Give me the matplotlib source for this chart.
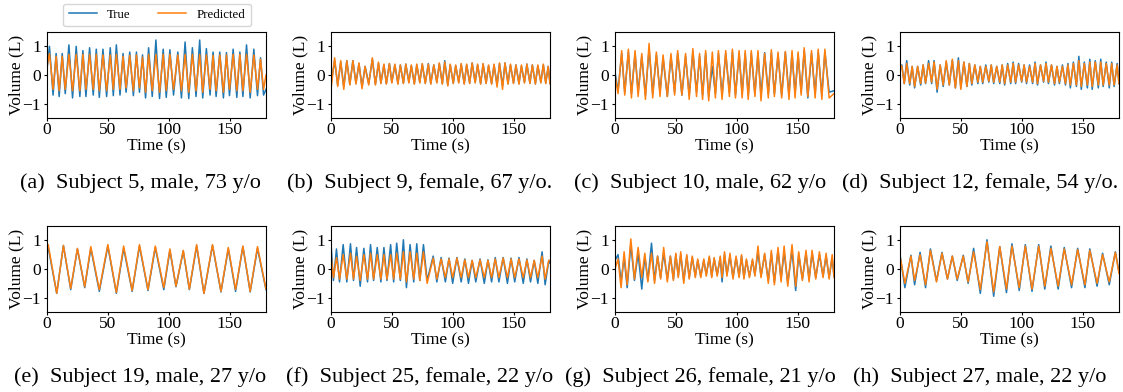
import numpy as np
import matplotlib
matplotlib.use('Agg')
import matplotlib.pyplot as plt

plt.rcParams['font.family'] = ['Liberation Serif', 'DejaVu Serif']

# ---- data: peak / trough times (s) and volumes (L) ----
# (a) subject 5
a_pk_t = [2, 7.5, 12.5, 18, 24, 29.5, 35, 40.5, 46, 52, 57, 62.5, 68, 73.5, 78.5, 83.5,
          89.5, 95.5, 101, 107.5, 113.5, 119.5, 125.5, 131, 136.5, 142, 147.5, 153, 158.5, 164, 170, 175.5]
a_tr_t = [0, 5, 10, 15, 21, 27, 32, 38, 43, 49, 54.5, 60, 65, 71, 76, 81, 86.5, 92.5, 98, 104,
          110.5, 116.5, 122.5, 128, 134, 139, 145, 150, 156, 161, 167, 173, 178, 180]
a_true_pk = [1.0, 0.75, 0.75, 1.05, 1.0, 0.85, 0.95, 0.9, 0.9, 0.95, 1.05, 0.75, 0.8, 0.8, 0.7, 0.95,
             1.22, 0.9, 0.88, 0.8, 1.15, 0.95, 1.22, 0.92, 0.8, 0.8, 0.78, 0.9, 0.8, 1.05, 0.9, 0.6]
a_true_tr = [0.2, -0.7, -0.75, -0.65, -0.8, -0.75, -0.75, -0.7, -0.78, -0.75, -0.72, -0.7, -0.6, -0.72, -0.6, -0.8,
             -0.75, -0.82, -0.78, -0.7, -0.8, -0.82, -0.75, -0.8, -0.7, -0.75, -0.8, -0.72, -0.78, -0.75, -0.8,
             -0.72, -0.7, -0.5]
a_pred_pk = [0.75, 0.65, 0.65, 0.72, 0.72, 0.72, 0.72, 0.72, 0.7, 0.7, 0.72, 0.65, 0.68, 0.7, 0.62, 0.72,
             0.72, 0.72, 0.72, 0.7, 0.72, 0.72, 0.72, 0.7, 0.68, 0.7, 0.7, 0.72, 0.72, 0.72, 0.7, 0.55]
a_pred_tr = [0.3, -0.5, -0.55, -0.5, -0.55, -0.55, -0.5, -0.5, -0.55, -0.55, -0.5, -0.5, -0.45, -0.55, -0.45, -0.6,
             -0.55, -0.6, -0.55, -0.5, -0.55, -0.6, -0.55, -0.6, -0.5, -0.55, -0.6, -0.5, -0.55, -0.55, -0.6,
             -0.5, -0.5, 0.0]

# (b) subject 9
b_pk_t = [3, 8, 13, 18, 23, 28, 34, 39, 43.5, 48, 52.5, 57, 61.5, 66, 70.5, 75, 80, 84.5, 89, 93.5,
          98, 102.5, 107, 111.5, 116, 120.5, 125, 129.5, 134, 138.5, 143, 147.5, 152, 156.5, 161, 165.5,
          170, 174.5, 178.5]
b_tr_t = [0, 5.5, 10.5, 15.5, 20.5, 25.5, 31, 36.5, 41, 45.5, 50, 55, 59.5, 64, 68.5, 73, 77.5, 82, 87,
          91.5, 96, 100.5, 105, 109.5, 114, 118.5, 123, 127.5, 132, 136.5, 141, 145.5, 150, 154.5, 159,
          163.5, 168, 172.5, 176.5, 180]
b_true_pk = [0.5, 0.45, 0.5, 0.5, 0.4, 0.3, 0.55, 0.4, 0.35, 0.4, 0.35, 0.35, 0.38, 0.32, 0.35, 0.38,
             0.4, 0.35, 0.4, 0.5, 0.35, 0.32, 0.38, 0.35, 0.42, 0.35, 0.38, 0.32, 0.35, 0.4, 0.42, 0.35,
             0.35, 0.3, 0.38, 0.35, 0.32, 0.35, 0.3]
b_true_tr = [-0.3, -0.35, -0.4, -0.32, -0.28, -0.42, -0.3, -0.32, -0.28, -0.3, -0.25, -0.3, -0.28, -0.25,
             -0.3, -0.25, -0.28, -0.3, -0.25, -0.3, -0.35, -0.28, -0.25, -0.3, -0.28, -0.25, -0.3, -0.28,
             -0.3, -0.35, -0.38, -0.3, -0.28, -0.3, -0.25, -0.28, -0.3, -0.25, -0.28, -0.3]
b_pred_pk = [0.6, 0.5, 0.5, 0.5, 0.42, 0.3, 0.6, 0.45, 0.38, 0.4, 0.38, 0.35, 0.38, 0.35, 0.38, 0.4,
             0.38, 0.35, 0.42, 0.45, 0.38, 0.35, 0.4, 0.38, 0.42, 0.38, 0.4, 0.35, 0.38, 0.42, 0.42, 0.38,
             0.35, 0.35, 0.38, 0.35, 0.35, 0.38, 0.3]
b_pred_tr = [-0.5, -0.4, -0.5, -0.35, -0.32, -0.48, -0.35, -0.35, -0.3, -0.32, -0.28, -0.32, -0.3, -0.28,
             -0.32, -0.28, -0.3, -0.32, -0.28, -0.32, -0.38, -0.3, -0.28, -0.32, -0.3, -0.28, -0.32, -0.3,
             -0.32, -0.42, -0.5, -0.32, -0.3, -0.32, -0.28, -0.3, -0.32, -0.28, -0.3, -0.3]

# (c) subject 10
c_pk_t = [5.5, 11, 16.5, 22, 28, 34, 39.5, 46, 51.5, 58, 64, 69.5, 74.5, 80, 85, 91, 96.5, 102, 107,
          112, 117.5, 123, 128.5, 134, 140, 145.5, 150.5, 155.5, 161.5, 167, 172.5]
c_tr_t = [0, 2.5, 8, 13.5, 19, 25, 31, 37, 43, 49, 55, 61, 67, 72, 77, 82.5, 88, 94, 99, 104.5, 109.5,
          115, 120, 126, 131, 137, 143, 148, 153, 158.5, 164.5, 170, 176, 180]
c_true_pk = [0.75, 0.8, 0.75, 0.65, 0.9, 0.7, 0.6, 0.65, 0.75, 0.65, 0.8, 0.65, 0.75, 0.3, 0.75, 0.75,
             0.8, 0.75, 0.75, 0.75, 0.75, 0.78, 0.78, 0.7, 0.8, 0.75, 0.7, 0.85, 0.75, 0.8, 0.8]
c_true_tr = [0.1, -0.55, -0.6, -0.65, -0.6, -0.7, -0.65, -0.6, -0.75, -0.6, -0.7, -0.7, -0.6, -0.7, -0.75,
             -0.65, -0.7, -0.6, -0.7, -0.65, -0.7, -0.65, -0.7, -0.65, -0.65, -0.7, -0.7, -0.65, -0.6,
             -0.8, -0.65, -0.7, -0.6, -0.55]
c_pred_pk = [0.85, 0.9, 0.85, 0.75, 1.1, 0.8, 0.7, 0.75, 0.85, 0.75, 0.92, 0.75, 0.85, 0.8, 0.85, 0.85,
             0.9, 0.85, 0.85, 0.85, 0.85, 0.75, 0.88, 0.8, 0.82, 0.85, 0.8, 0.95, 0.85, 0.9, 0.9]
c_pred_tr = [0.0, -0.65, -0.7, -0.8, -0.75, -0.85, -0.8, -0.75, -0.75, -0.7, -0.7, -0.85, -0.75, -0.85,
             -0.9, -0.8, -0.85, -0.75, -0.8, -0.8, -0.85, -0.75, -0.9, -0.8, -0.75, -0.8, -0.85, -0.8,
             -0.7, -0.75, -0.8, -0.85, -0.8, -0.65]

# (d) subject 12
d_pk_t = [1.5, 5.5, 10, 14.5, 19, 23.5, 28, 33, 38, 43, 48, 52.5, 57, 61.5, 66, 70.5, 75, 79.5, 84,
          88.5, 93, 97.5, 102, 106.5, 111, 115.5, 120, 124.5, 129, 133.5, 138, 142.5, 147, 151.5, 156,
          160.5, 165, 169.5, 174, 178.5]
d_tr_t = [0, 3.5, 8, 12, 17, 21, 26, 30.5, 35.5, 40.5, 45.5, 50, 55, 59, 64, 68, 73, 77, 82, 86, 91,
          95, 100, 104, 109, 113, 118, 122, 127, 131, 136, 140, 145, 149, 154, 158, 163, 167, 172, 176, 180]
d_true_pk = [0.35, 0.5, 0.3, 0.3, 0.35, 0.5, 0.5, 0.35, 0.45, 0.5, 0.6, 0.45, 0.4, 0.35, 0.3, 0.35,
             0.35, 0.3, 0.35, 0.4, 0.45, 0.4, 0.35, 0.35, 0.45, 0.35, 0.45, 0.35, 0.3, 0.35, 0.4, 0.45,
             0.65, 0.45, 0.55, 0.5, 0.55, 0.45, 0.45, 0.4]
d_true_tr = [0.3, -0.3, -0.35, -0.45, -0.35, -0.3, -0.3, -0.6, -0.4, -0.35, -0.45, -0.45, -0.4, -0.35,
             -0.3, -0.3, -0.25, -0.3, -0.3, -0.35, -0.3, -0.3, -0.25, -0.3, -0.3, -0.35, -0.25, -0.3, -0.35,
             -0.3, -0.35, -0.45, -0.4, -0.5, -0.45, -0.5, -0.45, -0.4, -0.45, -0.4, -0.3]
d_pred_pk = [0.3, 0.4, 0.3, 0.3, 0.35, 0.4, 0.45, 0.35, 0.5, 0.55, 0.5, 0.45, 0.4, 0.35, 0.3, 0.3,
             0.35, 0.3, 0.35, 0.35, 0.4, 0.35, 0.35, 0.3, 0.4, 0.35, 0.4, 0.35, 0.3, 0.3, 0.35, 0.4,
             0.5, 0.4, 0.45, 0.45, 0.45, 0.4, 0.4, 0.35]
d_pred_tr = [0.35, -0.3, -0.3, -0.4, -0.3, -0.28, -0.25, -0.5, -0.35, -0.35, -0.45, -0.5, -0.4, -0.3,
             -0.25, -0.25, -0.22, -0.25, -0.25, -0.3, -0.25, -0.25, -0.22, -0.25, -0.25, -0.3, -0.22,
             -0.25, -0.3, -0.25, -0.3, -0.35, -0.35, -0.4, -0.35, -0.4, -0.35, -0.35, -0.35, -0.35, -0.3]

# (e) subject 19
e_pk_t = [1, 13.5, 25, 36, 50, 63, 76, 89, 101, 112, 123, 136, 149, 161, 173]
e_tr_t = [0, 8, 19.5, 31, 43, 57, 70, 83, 96, 106, 117, 129, 143, 155, 167, 180]
e_true_pk = [0.75, 0.82, 0.7, 0.72, 0.8, 0.72, 0.8, 0.75, 0.65, 0.62, 0.8, 0.82, 0.7, 0.78, 0.72]
e_true_tr = [0.7, -0.85, -0.72, -0.65, -0.78, -0.85, -0.78, -0.75, -0.72, -0.62, -0.72, -0.85, -0.8,
             -0.78, -0.8, -0.72]
e_pred_pk = [0.85, 0.82, 0.72, 0.78, 0.85, 0.8, 0.85, 0.8, 0.7, 0.65, 0.85, 0.85, 0.75, 0.8, 0.78]
e_pred_tr = [0.8, -0.85, -0.68, -0.62, -0.72, -0.82, -0.75, -0.72, -0.65, -0.6, -0.7, -0.85, -0.78,
             -0.72, -0.78, -0.7]

# (f) subject 25
f_pk_t = [4.5, 10, 16, 21, 27, 32.5, 38, 43.5, 49, 54, 59.5, 65, 70.5, 76, 84, 90.5, 97, 103.5, 110,
          116, 122.5, 129, 135, 141.5, 148, 154.5, 161, 167, 173.5, 179]
f_tr_t = [0, 2, 7, 13, 18.5, 24, 30, 35, 41, 46, 51.5, 57, 62, 68, 73, 79, 87, 94, 100, 107, 113, 119,
          126, 132, 138, 145, 151, 158, 164, 170, 176, 180]
f_true_pk = [0.7, 0.85, 0.88, 0.75, 0.72, 0.85, 0.75, 0.75, 0.85, 0.9, 1.02, 0.85, 0.88, 0.85, 0.45,
             0.4, 0.38, 0.4, 0.35, 0.3, 0.35, 0.32, 0.4, 0.4, 0.38, 0.4, 0.35, 0.3, 0.6, 0.3]
f_true_tr = [0.9, -0.4, -0.45, -0.45, -0.4, -0.6, -0.45, -0.4, -0.45, -0.4, -0.45, -0.4, -0.65, -0.45,
             -0.4, -0.4, -0.45, -0.45, -0.5, -0.45, -0.5, -0.45, -0.5, -0.45, -0.45, -0.5, -0.45, -0.5,
             -0.45, -0.5, -0.55, 0.2]
f_pred_pk = [0.4, 0.5, 0.55, 0.45, 0.5, 0.55, 0.5, 0.5, 0.5, 0.55, 0.6, 0.6, 0.55, 0.6, 0.38, 0.35,
             0.35, 0.38, 0.32, 0.3, 0.32, 0.3, 0.35, 0.38, 0.35, 0.35, 0.32, 0.3, 0.45, 0.3]
f_pred_tr = [0.5, -0.3, -0.35, -0.35, -0.35, -0.4, -0.35, -0.35, -0.35, -0.35, -0.35, -0.35, -0.45,
             -0.35, -0.4, -0.5, -0.35, -0.3, -0.3, -0.3, -0.3, -0.3, -0.3, -0.3, -0.3, -0.3, -0.3, -0.3,
             -0.3, -0.3, -0.35, 0.3]

# (g) subject 26
g_pk_t = [2.5, 7.5, 13, 19, 24.5, 30, 35, 40, 45.5, 50, 54, 59, 63.5, 68, 73, 77.5, 81.5, 86.5, 90,
          94.5, 99.5, 104, 108, 113, 117.5, 123, 128.5, 134, 139, 145.5, 151, 157, 162, 168, 173.5, 178.5]
g_tr_t = [0, 5, 10, 16, 22, 27, 32.5, 37.5, 43, 48, 52, 56.5, 61, 66, 70.5, 75, 79.5, 84, 88, 92, 97,
          102, 106, 110.5, 115, 120, 126, 131, 136.5, 142, 148.5, 154, 159.5, 165, 171, 176, 180]
g_true_pk = [0.5, 0.4, 0.85, 0.55, 0.45, 0.9, 0.45, 0.55, 0.45, 0.5, 0.5, 0.45, 0.4, 0.3, 0.3, 0.4,
             0.35, 0.4, 0.5, 0.45, 0.4, 0.45, 0.3, 0.3, 0.6, 0.5, 0.55, 0.65, 0.6, 0.65, 0.5, 0.55,
             0.55, 0.5, 0.45, 0.4]
g_true_tr = [0.3, -0.45, -0.65, -0.4, -0.7, -0.4, -0.4, -0.3, -0.35, -0.35, -0.25, -0.4, -0.3, -0.25,
             -0.25, -0.2, -0.25, -0.2, -0.45, -0.2, -0.3, -0.25, -0.3, -0.25, -0.2, -0.25, -0.4, -0.45,
             -0.35, -0.5, -0.75, -0.35, -0.35, -0.3, -0.25, -0.3, -0.25]
g_pred_pk = [0.35, 0.6, 1.05, 0.75, 0.55, 0.55, 0.45, 0.75, 0.45, 0.55, 0.6, 0.5, 0.45, 0.35, 0.35,
             0.45, 0.4, 0.45, 0.6, 0.55, 0.45, 0.5, 0.35, 0.35, 0.8, 0.55, 0.65, 0.75, 0.8, 0.85, 0.6,
             0.65, 0.65, 0.6, 0.55, 0.5]
g_pred_tr = [0.0, -0.65, -0.55, -0.35, -0.3, -0.45, -0.5, -0.35, -0.45, -0.4, -0.3, -0.5, -0.35, -0.3,
             -0.3, -0.25, -0.3, -0.25, -0.3, -0.25, -0.35, -0.3, -0.35, -0.3, -0.25, -0.3, -0.5, -0.55,
             -0.45, -0.6, -0.6, -0.4, -0.45, -0.35, -0.3, -0.35, -0.3]

# (h) subject 27
h_pk_t = [9, 16.5, 25, 34.5, 43, 52, 60.5, 71.5, 82, 92, 103, 114, 124, 135, 146, 156, 166.5, 177]
h_tr_t = [0, 4, 12, 21, 30, 39, 47, 56, 66, 77, 87.5, 98, 108.5, 119, 130, 141, 152, 162, 172, 180]
h_true_pk = [0.48, 0.58, 0.7, 0.58, 0.45, 0.48, 0.72, 1.02, 0.78, 0.88, 0.85, 0.85, 0.8, 0.75, 0.72,
             0.7, 0.55, 0.6]
h_true_tr = [0.5, -0.65, -0.55, -0.65, -0.42, -0.35, -0.4, -0.5, -0.85, -0.95, -0.82, -0.75, -0.78,
             -0.7, -0.7, -0.65, -0.65, -0.6, -0.55, -0.1]
h_pred_pk = [0.45, 0.5, 0.65, 0.55, 0.45, 0.45, 0.6, 0.95, 0.78, 0.8, 0.8, 0.8, 0.72, 0.7, 0.68, 0.65,
             0.5, 0.58]
h_pred_tr = [0.45, -0.5, -0.4, -0.55, -0.45, -0.35, -0.35, -0.45, -0.72, -0.8, -0.7, -0.65, -0.7,
             -0.6, -0.6, -0.55, -0.55, -0.5, -0.45, -0.15]

captions = ['(a)  Subject 5, male, 73 y/o', '(b)  Subject 9, female, 67 y/o.',
            '(c)  Subject 10, male, 62 y/o', '(d)  Subject 12, female, 54 y/o.',
            '(e)  Subject 19, male, 27 y/o', '(f)  Subject 25, female, 22 y/o',
            '(g)  Subject 26, female, 21 y/o', '(h)  Subject 27, male, 22 y/o']

panels = [
    (a_pk_t, a_tr_t, a_true_pk, a_true_tr, a_pred_pk, a_pred_tr),
    (b_pk_t, b_tr_t, b_true_pk, b_true_tr, b_pred_pk, b_pred_tr),
    (c_pk_t, c_tr_t, c_true_pk, c_true_tr, c_pred_pk, c_pred_tr),
    (d_pk_t, d_tr_t, d_true_pk, d_true_tr, d_pred_pk, d_pred_tr),
    (e_pk_t, e_tr_t, e_true_pk, e_true_tr, e_pred_pk, e_pred_tr),
    (f_pk_t, f_tr_t, f_true_pk, f_true_tr, f_pred_pk, f_pred_tr),
    (g_pk_t, g_tr_t, g_true_pk, g_true_tr, g_pred_pk, g_pred_tr),
    (h_pk_t, h_tr_t, h_true_pk, h_true_tr, h_pred_pk, h_pred_tr),
]


def trace(pk_t, tr_t, pk_v, tr_v):
    t = np.concatenate([pk_t, tr_t])
    v = np.concatenate([pk_v, tr_v])
    order = np.argsort(t, kind='stable')
    return t[order], v[order]


W, H = 1123, 392
fig = plt.figure(figsize=(W / 100, H / 100), dpi=100)

lefts = [47, 331, 615, 900]
tops = [32, 226]
ax_w, ax_h = 219, 86
cap_x = [140, 420, 700, 980]
cap_y = [183, 377]

for i, (pk_t, tr_t, tpk, ttr, ppk, ptr) in enumerate(panels):
    r, c = divmod(i, 4)
    ax = fig.add_axes([lefts[c] / W, 1 - (tops[r] + ax_h) / H, ax_w / W, ax_h / H])
    t, y = trace(pk_t, tr_t, tpk, ttr)
    ax.plot(t, y, color='#1f77b4', lw=1.1, solid_joinstyle='round', label='True')
    t, y = trace(pk_t, tr_t, ppk, ptr)
    ax.plot(t, y, color='#ff7f0e', lw=1.1, solid_joinstyle='round', label='Predicted')
    ax.set_xlim(0, 180)
    ax.set_ylim(-1.5, 1.5)
    ax.set_xticks([0, 50, 100, 150])
    ax.set_yticks([-1, 0, 1])
    ax.tick_params(labelsize=12.5, length=2.5)
    ax.tick_params(axis='x', pad=0.5)
    ax.tick_params(axis='y', pad=2)
    ax.set_xlabel('Time (s)', fontsize=12.5, labelpad=0)
    ax.set_ylabel('Volume (L)', fontsize=12.5)
    ax.yaxis.set_label_coords(-0.105, 0.5)
    fig.text(cap_x[c] / W, 1 - cap_y[r] / H, captions[i], ha='center', va='center', fontsize=16)
    if i == 0:
        handles, labels = ax.get_legend_handles_labels()

fig.legend(handles, labels, loc='center', bbox_to_anchor=(157 / W, 1 - 15 / H), ncol=2,
           fontsize=9.3, handlelength=2.2, columnspacing=2.1, borderpad=0.4)

plt.savefig('out.png', dpi=100)
